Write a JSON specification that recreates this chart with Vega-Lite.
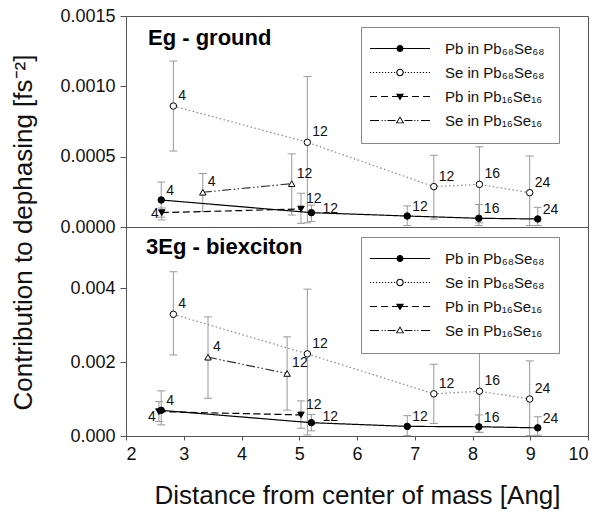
{
  "$schema": "https://vega.github.io/schema/vega-lite/v6.json",
  "padding": {"left": 9, "top": 6, "right": 5, "bottom": 5},
  "background": "white",
  "spacing": 0,
  "bounds": "flush",
  "resolve": {"scale": {"shape": "independent", "fill": "independent"}, "legend": {"shape": "independent", "fill": "independent"}},
  "config": {
    "font": "Liberation Sans",
    "view": {"stroke": "#555", "strokeWidth": 1},
    "axis": {"domainColor": "#555", "tickColor": "#555", "labelColor": "#111", "titleColor": "#111", "grid": false, "labelFont": "Liberation Sans", "titleFont": "Liberation Sans", "titleFontWeight": "normal"},
    "legend": {"title": null, "orient": "none", "legendX": 235, "strokeColor": "#888", "fillColor": "#fff", "padding": 14, "symbolSize": 100, "symbolOffset": 17.5, "labelOffset": 37.5, "rowPadding": 8, "labelFontSize": 15, "labelFont": "Liberation Sans", "labelColor": "#111", "symbolStrokeWidth": 0, "symbolOpacity": 1}
  },
  "datasets": {
    "ground": [
      {"series": "Pb in Pb₆₈Se₆₈", "x": 2.61, "y": 0.000192, "lo": 0.00007, "hi": 0.00032, "n": "4"},
      {"series": "Pb in Pb₆₈Se₆₈", "x": 5.21, "y": 0.000102, "lo": 0.00004, "hi": 0.000156, "n": "12"},
      {"series": "Pb in Pb₆₈Se₆₈", "x": 6.87, "y": 0.000078, "lo": 0.00001, "hi": 0.00015, "n": "12"},
      {"series": "Pb in Pb₆₈Se₆₈", "x": 8.11, "y": 0.000062, "lo": 0.00001, "hi": 0.00016, "n": "16"},
      {"series": "Pb in Pb₆₈Se₆₈", "x": 9.13, "y": 0.000057, "lo": 0.00001, "hi": 0.00014, "n": "24"},
      {"series": "Se in Pb₆₈Se₆₈", "x": 2.82, "y": 0.00086, "lo": 0.00054, "hi": 0.00118, "n": "4"},
      {"series": "Se in Pb₆₈Se₆₈", "x": 5.14, "y": 0.000602, "lo": 0.00003, "hi": 0.00107, "n": "12"},
      {"series": "Se in Pb₆₈Se₆₈", "x": 7.33, "y": 0.000287, "lo": 0.000056, "hi": 0.00051, "n": "12"},
      {"series": "Se in Pb₆₈Se₆₈", "x": 8.12, "y": 0.000303, "lo": 0.00003, "hi": 0.00057, "n": "16"},
      {"series": "Se in Pb₆₈Se₆₈", "x": 8.99, "y": 0.000244, "lo": 0.00001, "hi": 0.000505, "n": "24"},
      {"series": "Pb in Pb₁₆Se₁₆", "x": 2.62, "y": 0.000102, "lo": 0.00005, "hi": 0.000135, "n": "4"},
      {"series": "Pb in Pb₁₆Se₁₆", "x": 5.03, "y": 0.000128, "lo": 0.000026, "hi": 0.00024, "n": "12"},
      {"series": "Se in Pb₁₆Se₁₆", "x": 3.33, "y": 0.000247, "lo": 0.00011, "hi": 0.00038, "n": "4"},
      {"series": "Se in Pb₁₆Se₁₆", "x": 4.87, "y": 0.000308, "lo": 0.000085, "hi": 0.00052, "n": "12"}
    ],
    "biexciton": [
      {"series": "Pb in Pb₆₈Se₆₈", "x": 2.61, "y": 0.000694, "lo": 0.0003, "hi": 0.00122, "n": "4"},
      {"series": "Pb in Pb₆₈Se₆₈", "x": 5.21, "y": 0.00036, "lo": 0.00014, "hi": 0.00058, "n": "12"},
      {"series": "Pb in Pb₆₈Se₆₈", "x": 6.87, "y": 0.00026, "lo": 0.00001, "hi": 0.00055, "n": "12"},
      {"series": "Pb in Pb₆₈Se₆₈", "x": 8.11, "y": 0.00025, "lo": 0.0001, "hi": 0.00057, "n": "16"},
      {"series": "Pb in Pb₆₈Se₆₈", "x": 9.13, "y": 0.00022, "lo": 0.00002, "hi": 0.00052, "n": "24"},
      {"series": "Se in Pb₆₈Se₆₈", "x": 2.82, "y": 0.00329, "lo": 0.00219, "hi": 0.00444, "n": "4"},
      {"series": "Se in Pb₆₈Se₆₈", "x": 5.14, "y": 0.00222, "lo": 0.00003, "hi": 0.00397, "n": "12"},
      {"series": "Se in Pb₆₈Se₆₈", "x": 7.33, "y": 0.00114, "lo": 0.00034, "hi": 0.00194, "n": "12"},
      {"series": "Se in Pb₆₈Se₆₈", "x": 8.12, "y": 0.00121, "lo": 0.0001, "hi": 0.0023, "n": "16"},
      {"series": "Se in Pb₆₈Se₆₈", "x": 8.99, "y": 0.001, "lo": 0.00001, "hi": 0.00203, "n": "24"},
      {"series": "Pb in Pb₁₆Se₁₆", "x": 2.57, "y": 0.00066, "lo": 0.00039, "hi": 0.00093, "n": "4"},
      {"series": "Pb in Pb₁₆Se₁₆", "x": 5.03, "y": 0.00057, "lo": 0.00021, "hi": 0.00095, "n": "12"},
      {"series": "Se in Pb₁₆Se₁₆", "x": 3.42, "y": 0.00213, "lo": 0.00102, "hi": 0.00322, "n": "4"},
      {"series": "Se in Pb₁₆Se₁₆", "x": 4.79, "y": 0.00169, "lo": 0.0007, "hi": 0.00268, "n": "12"}
    ]
  },
  "vconcat": [
    {
      "data": {"name": "ground"},
      "width": 462,
      "height": 211,
      "title": {"text": "Eg - ground", "anchor": "start", "frame": "group", "orient": "top", "offset": -60, "dx": 22, "baseline": "alphabetic", "fontSize": 22, "fontWeight": "bold", "font": "Liberation Sans", "color": "#000"},
      "encoding": {
        "x": {"field": "x", "type": "quantitative", "scale": {"domain": [2, 10], "nice": false}, "axis": null}
      },
      "layer": [
        {
          "mark": {"type": "rule", "color": "#999", "strokeWidth": 1},
          "encoding": {
            "y": {"field": "lo", "type": "quantitative", "scale": {"domain": [0, 0.0015], "nice": false},
              "axis": {"values": [0, 0.0005, 0.001, 0.0015], "format": ".4f", "tickSize": 6, "labelPadding": 5, "labelFontSize": 18, "title": "Contribution to dephasing [fs⁻²]", "titleFontSize": 26, "titleX": -90, "titleY": 216, "titleAnchor": "middle"}},
            "y2": {"field": "hi"}
          }
        },
        {
          "mark": {"type": "tick", "orient": "horizontal", "size": 8, "thickness": 1, "color": "#999", "opacity": 1},
          "encoding": {"y": {"field": "lo", "type": "quantitative"}}
        },
        {
          "mark": {"type": "tick", "orient": "horizontal", "size": 8, "thickness": 1, "color": "#999", "opacity": 1},
          "encoding": {"y": {"field": "hi", "type": "quantitative"}}
        },
        {
          "mark": {"type": "line", "strokeWidth": 1.2},
          "encoding": {
            "y": {"field": "y", "type": "quantitative"},
            "detail": {"field": "series"},
            "color": {"condition": [{"test": "datum.series === 'Se in Pb₆₈Se₆₈'", "value": "#888"}, {"test": "datum.series === 'Se in Pb₁₆Se₁₆'", "value": "#333"}], "value": "#000"},
            "strokeDash": {"condition": [{"test": "datum.series === 'Se in Pb₆₈Se₆₈'", "value": [1.5, 2.5]}, {"test": "datum.series === 'Pb in Pb₁₆Se₁₆'", "value": [7, 3.5]}, {"test": "datum.series === 'Se in Pb₁₆Se₁₆'", "value": [9, 2.5, 1.5, 2.5, 1.5, 2.5]}], "value": [1, 0]}
          }
        },
        {
          "mark": {"type": "point", "size": 42, "stroke": "#000", "strokeWidth": 1, "opacity": 1},
          "encoding": {
            "y": {"field": "y", "type": "quantitative"},
            "fill": {"condition": {"test": "datum.series === 'Se in Pb₆₈Se₆₈' || datum.series === 'Se in Pb₁₆Se₁₆'", "value": "#fff"}, "value": "#000"},
            "shape": {"condition": [{"test": "datum.series === 'Pb in Pb₁₆Se₁₆'", "value": "triangle-down"}, {"test": "datum.series === 'Se in Pb₁₆Se₁₆'", "value": "triangle-up"}], "value": "circle"}
          }
        },
        {
          "mark": {"type": "point", "opacity": 0, "size": 100},
          "encoding": {
            "y": {"field": "y", "type": "quantitative"},
            "fill": {"field": "series", "type": "nominal", "scale": {"domain": ["Pb in Pb₆₈Se₆₈", "Se in Pb₆₈Se₆₈", "Pb in Pb₁₆Se₁₆", "Se in Pb₁₆Se₁₆"], "range": ["#000", "#000", "#000", "#000"]}, "legend": {"legendY": 11}},
            "shape": {"field": "series", "type": "nominal", "scale": {"domain": ["Pb in Pb₆₈Se₆₈", "Se in Pb₆₈Se₆₈", "Pb in Pb₁₆Se₁₆", "Se in Pb₁₆Se₁₆"], "range": [
              "M-6,-0.12H6V0.12H-6ZM0.7,0A0.7,0.7,0,1,1,-0.7,0A0.7,0.7,0,1,1,0.7,0Z",
              "M-6,-0.12h0.24v0.24h-0.24ZM-5.4,-0.12h0.24v0.24h-0.24ZM-4.8,-0.12h0.24v0.24h-0.24ZM-4.2,-0.12h0.24v0.24h-0.24ZM-3.6,-0.12h0.24v0.24h-0.24ZM-3,-0.12h0.24v0.24h-0.24ZM-2.4,-0.12h0.24v0.24h-0.24ZM-1.8,-0.12h0.24v0.24h-0.24ZM-1.2,-0.12h0.24v0.24h-0.24ZM0.96,-0.12h0.24v0.24h-0.24ZM1.56,-0.12h0.24v0.24h-0.24ZM2.16,-0.12h0.24v0.24h-0.24ZM2.76,-0.12h0.24v0.24h-0.24ZM3.36,-0.12h0.24v0.24h-0.24ZM3.96,-0.12h0.24v0.24h-0.24ZM4.56,-0.12h0.24v0.24h-0.24ZM5.16,-0.12h0.24v0.24h-0.24ZM5.76,-0.12h0.24v0.24h-0.24ZM0.75,0A0.75,0.75,0,1,1,-0.75,0A0.75,0.75,0,1,1,0.75,0ZM0.53,0A0.53,0.53,0,1,0,-0.53,0A0.53,0.53,0,1,0,0.53,0Z",
              "M-6,-0.12H-4.6V0.12H-6ZM-3.8,-0.12H-2.4V0.12H-3.8ZM-1.6,-0.12H1.6V0.12H-1.6ZM2.4,-0.12H3.8V0.12H2.4ZM4.6,-0.12H6V0.12H4.6ZM-0.8,-0.55L0.8,-0.55L0,0.8Z",
              "M-6,-0.12H-4.2V0.12H-6ZM-3.7,-0.12h0.24v0.24h-0.24ZM-3.1,-0.12h0.24v0.24h-0.24ZM-2.5,-0.12H-0.9V0.12H-2.5ZM0.9,-0.12H2.5V0.12H0.9ZM2.86,-0.12h0.24v0.24h-0.24ZM3.46,-0.12h0.24v0.24h-0.24ZM4.2,-0.12H6V0.12H4.2ZM-0.85,0.55L0.85,0.55L0,-0.85ZM-0.55,0.38L0,-0.5L0.55,0.38Z"]}, "legend": {"legendY": 11}}
          }
        },
        {
          "transform": [{"filter": "datum.series !== 'Pb in Pb₆₈Se₆₈' && !(datum.series === 'Pb in Pb₁₆Se₁₆' && datum.x < 3)"}],
          "mark": {"type": "text", "align": "left", "baseline": "middle", "dx": 5, "dy": -10, "fontSize": 14, "color": "#111"},
          "encoding": {"y": {"field": "y", "type": "quantitative"}, "text": {"field": "n"}}
        },
        {
          "transform": [{"filter": "datum.series === 'Pb in Pb₆₈Se₆₈' && !(datum.x > 5 && datum.x < 6)"}],
          "mark": {"type": "text", "align": "left", "baseline": "middle", "dx": 5, "dy": -9, "fontSize": 14, "color": "#111"},
          "encoding": {"y": {"field": "y", "type": "quantitative"}, "text": {"field": "n"}}
        },
        {
          "transform": [{"filter": "datum.series === 'Pb in Pb₆₈Se₆₈' && datum.x > 5 && datum.x < 6"}],
          "mark": {"type": "text", "align": "left", "baseline": "middle", "dx": 11, "dy": -4, "fontSize": 14, "color": "#111"},
          "encoding": {"y": {"field": "y", "type": "quantitative"}, "text": {"field": "n"}}
        },
        {
          "transform": [{"filter": "datum.series === 'Pb in Pb₁₆Se₁₆' && datum.x < 3"}],
          "mark": {"type": "text", "align": "right", "baseline": "middle", "dx": -3, "dy": 1, "fontSize": 14, "color": "#111"},
          "encoding": {"y": {"field": "y", "type": "quantitative"}, "text": {"field": "n"}}
        }
      ]
    },
    {
      "data": {"name": "biexciton"},
      "width": 462,
      "height": 209,
      "title": {"text": "3Eg - biexciton", "anchor": "start", "frame": "group", "orient": "top", "offset": -49, "dx": 20, "baseline": "alphabetic", "fontSize": 22, "fontWeight": "bold", "font": "Liberation Sans", "color": "#000"},
      "encoding": {
        "x": {"field": "x", "type": "quantitative", "scale": {"domain": [2, 10], "nice": false},
          "axis": {"values": [2, 3, 4, 5, 6, 7, 8, 9, 10], "tickSize": 4, "labelPadding": 5, "labelFontSize": 18, "title": "Distance from center of mass [Ang]", "titleFontSize": 26, "titlePadding": 19}}
      },
      "layer": [
        {
          "mark": {"type": "rule", "color": "#999", "strokeWidth": 1},
          "encoding": {
            "y": {"field": "lo", "type": "quantitative", "scale": {"domain": [0, 0.00565], "nice": false},
              "axis": {"values": [0, 0.002, 0.004], "format": ".3f", "tickSize": 6, "labelPadding": 5, "labelFontSize": 18, "title": null}},
            "y2": {"field": "hi"}
          }
        },
        {
          "mark": {"type": "tick", "orient": "horizontal", "size": 8, "thickness": 1, "color": "#999", "opacity": 1},
          "encoding": {"y": {"field": "lo", "type": "quantitative"}}
        },
        {
          "mark": {"type": "tick", "orient": "horizontal", "size": 8, "thickness": 1, "color": "#999", "opacity": 1},
          "encoding": {"y": {"field": "hi", "type": "quantitative"}}
        },
        {
          "mark": {"type": "line", "strokeWidth": 1.2},
          "encoding": {
            "y": {"field": "y", "type": "quantitative"},
            "detail": {"field": "series"},
            "color": {"condition": [{"test": "datum.series === 'Se in Pb₆₈Se₆₈'", "value": "#888"}, {"test": "datum.series === 'Se in Pb₁₆Se₁₆'", "value": "#333"}], "value": "#000"},
            "strokeDash": {"condition": [{"test": "datum.series === 'Se in Pb₆₈Se₆₈'", "value": [1.5, 2.5]}, {"test": "datum.series === 'Pb in Pb₁₆Se₁₆'", "value": [7, 3.5]}, {"test": "datum.series === 'Se in Pb₁₆Se₁₆'", "value": [9, 2.5, 1.5, 2.5, 1.5, 2.5]}], "value": [1, 0]}
          }
        },
        {
          "mark": {"type": "point", "size": 42, "stroke": "#000", "strokeWidth": 1, "opacity": 1},
          "encoding": {
            "y": {"field": "y", "type": "quantitative"},
            "fill": {"condition": {"test": "datum.series === 'Se in Pb₆₈Se₆₈' || datum.series === 'Se in Pb₁₆Se₁₆'", "value": "#fff"}, "value": "#000"},
            "shape": {"condition": [{"test": "datum.series === 'Pb in Pb₁₆Se₁₆'", "value": "triangle-down"}, {"test": "datum.series === 'Se in Pb₁₆Se₁₆'", "value": "triangle-up"}], "value": "circle"}
          }
        },
        {
          "mark": {"type": "point", "opacity": 0, "size": 100},
          "encoding": {
            "y": {"field": "y", "type": "quantitative"},
            "fill": {"field": "series", "type": "nominal", "scale": {"domain": ["Pb in Pb₆₈Se₆₈", "Se in Pb₆₈Se₆₈", "Pb in Pb₁₆Se₁₆", "Se in Pb₁₆Se₁₆"], "range": ["#000", "#000", "#000", "#000"]}, "legend": {"legendY": 10}},
            "shape": {"field": "series", "type": "nominal", "scale": {"domain": ["Pb in Pb₆₈Se₆₈", "Se in Pb₆₈Se₆₈", "Pb in Pb₁₆Se₁₆", "Se in Pb₁₆Se₁₆"], "range": [
              "M-6,-0.12H6V0.12H-6ZM0.7,0A0.7,0.7,0,1,1,-0.7,0A0.7,0.7,0,1,1,0.7,0Z",
              "M-6,-0.12h0.24v0.24h-0.24ZM-5.4,-0.12h0.24v0.24h-0.24ZM-4.8,-0.12h0.24v0.24h-0.24ZM-4.2,-0.12h0.24v0.24h-0.24ZM-3.6,-0.12h0.24v0.24h-0.24ZM-3,-0.12h0.24v0.24h-0.24ZM-2.4,-0.12h0.24v0.24h-0.24ZM-1.8,-0.12h0.24v0.24h-0.24ZM-1.2,-0.12h0.24v0.24h-0.24ZM0.96,-0.12h0.24v0.24h-0.24ZM1.56,-0.12h0.24v0.24h-0.24ZM2.16,-0.12h0.24v0.24h-0.24ZM2.76,-0.12h0.24v0.24h-0.24ZM3.36,-0.12h0.24v0.24h-0.24ZM3.96,-0.12h0.24v0.24h-0.24ZM4.56,-0.12h0.24v0.24h-0.24ZM5.16,-0.12h0.24v0.24h-0.24ZM5.76,-0.12h0.24v0.24h-0.24ZM0.75,0A0.75,0.75,0,1,1,-0.75,0A0.75,0.75,0,1,1,0.75,0ZM0.53,0A0.53,0.53,0,1,0,-0.53,0A0.53,0.53,0,1,0,0.53,0Z",
              "M-6,-0.12H-4.6V0.12H-6ZM-3.8,-0.12H-2.4V0.12H-3.8ZM-1.6,-0.12H1.6V0.12H-1.6ZM2.4,-0.12H3.8V0.12H2.4ZM4.6,-0.12H6V0.12H4.6ZM-0.8,-0.55L0.8,-0.55L0,0.8Z",
              "M-6,-0.12H-4.2V0.12H-6ZM-3.7,-0.12h0.24v0.24h-0.24ZM-3.1,-0.12h0.24v0.24h-0.24ZM-2.5,-0.12H-0.9V0.12H-2.5ZM0.9,-0.12H2.5V0.12H0.9ZM2.86,-0.12h0.24v0.24h-0.24ZM3.46,-0.12h0.24v0.24h-0.24ZM4.2,-0.12H6V0.12H4.2ZM-0.85,0.55L0.85,0.55L0,-0.85ZM-0.55,0.38L0,-0.5L0.55,0.38Z"]}, "legend": {"legendY": 10}}
          }
        },
        {
          "transform": [{"filter": "datum.series !== 'Pb in Pb₆₈Se₆₈' && !(datum.series === 'Pb in Pb₁₆Se₁₆' && datum.x < 3)"}],
          "mark": {"type": "text", "align": "left", "baseline": "middle", "dx": 5, "dy": -10, "fontSize": 14, "color": "#111"},
          "encoding": {"y": {"field": "y", "type": "quantitative"}, "text": {"field": "n"}}
        },
        {
          "transform": [{"filter": "datum.series === 'Pb in Pb₆₈Se₆₈' && !(datum.x > 5 && datum.x < 6)"}],
          "mark": {"type": "text", "align": "left", "baseline": "middle", "dx": 5, "dy": -9, "fontSize": 14, "color": "#111"},
          "encoding": {"y": {"field": "y", "type": "quantitative"}, "text": {"field": "n"}}
        },
        {
          "transform": [{"filter": "datum.series === 'Pb in Pb₆₈Se₆₈' && datum.x > 5 && datum.x < 6"}],
          "mark": {"type": "text", "align": "left", "baseline": "middle", "dx": 11, "dy": -6, "fontSize": 14, "color": "#111"},
          "encoding": {"y": {"field": "y", "type": "quantitative"}, "text": {"field": "n"}}
        },
        {
          "transform": [{"filter": "datum.series === 'Pb in Pb₁₆Se₁₆' && datum.x < 3"}],
          "mark": {"type": "text", "align": "right", "baseline": "middle", "dx": -3, "dy": 5, "fontSize": 14, "color": "#111"},
          "encoding": {"y": {"field": "y", "type": "quantitative"}, "text": {"field": "n"}}
        }
      ]
    }
  ]
}
